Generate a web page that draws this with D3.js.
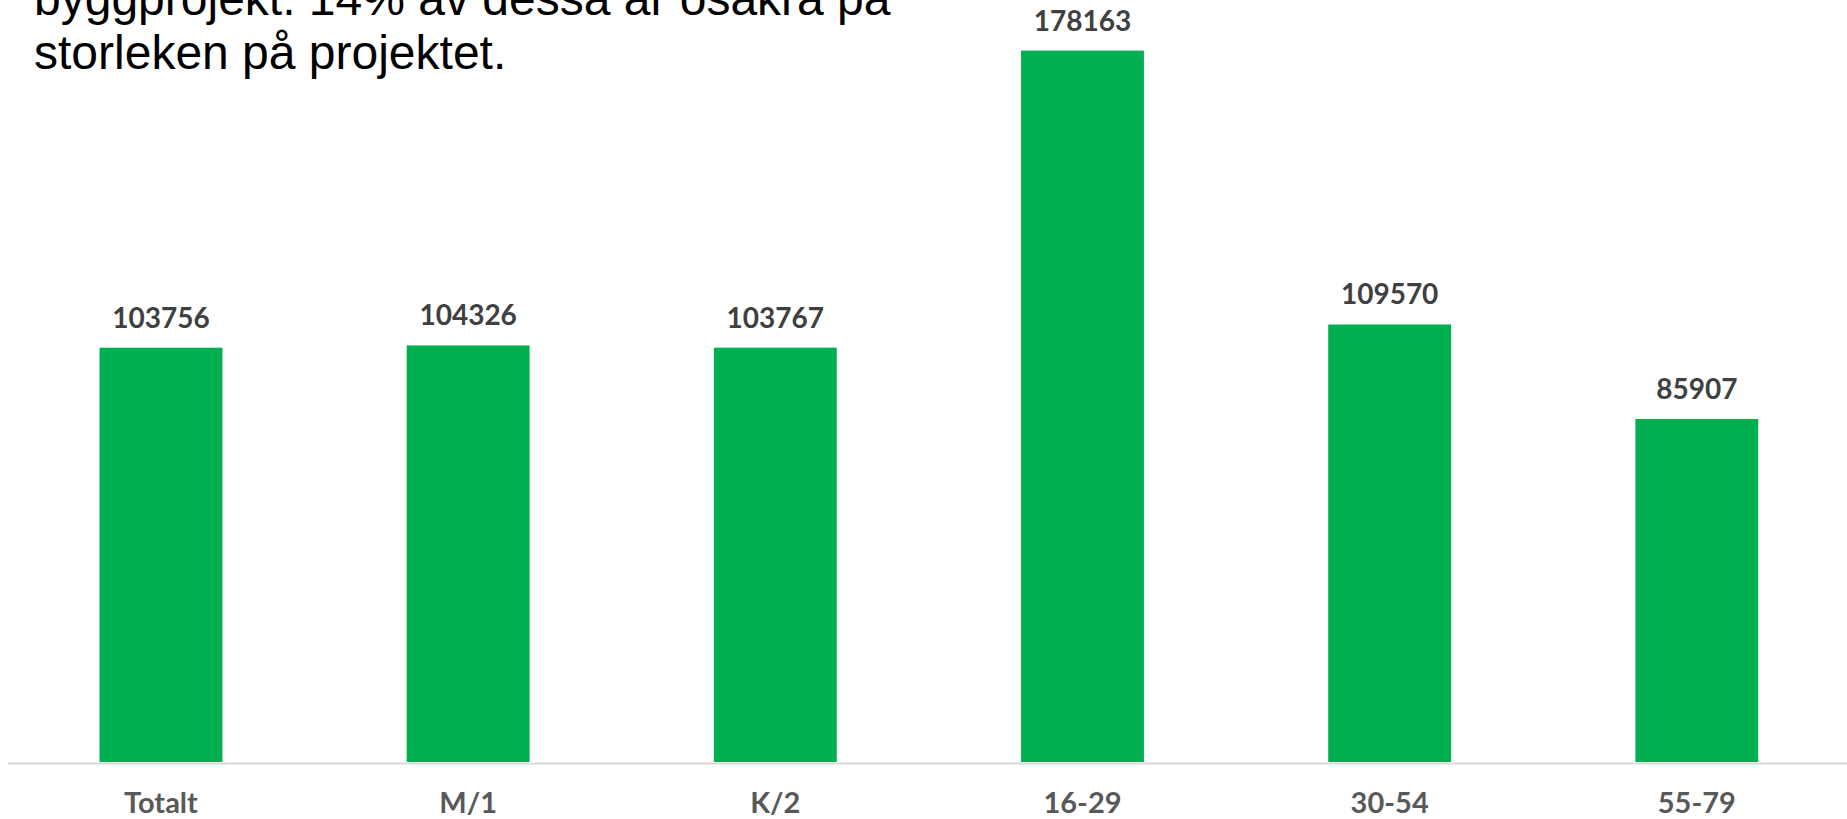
<!DOCTYPE html>
<html>
<head>
<meta charset="utf-8">
<script src="https://cdn.jsdelivr.net/npm/d3@7"></script>
<style>
  html, body { margin: 0; padding: 0; background: #fff; }
  svg { display: block; }
  .title { font-family: "Liberation Sans", Arial, sans-serif; font-size: 48px; fill: #000; }
  .value-label { font-family: Lato, "Open Sans", sans-serif; font-weight: 700; font-size: 28px; fill: #404040; }
  .x-axis text { font-family: Lato, "Open Sans", sans-serif; font-weight: 700; font-size: 29px; fill: #595959; }
</style>
</head>
<body>
<div class="container"></div>
<script>
const WIDTH = 1847;
const HEIGHT = 819;

// Data
const categories = ["Totalt", "M/1", "K/2", "16-29", "30-54", "55-79"];
const values = [103756, 104326, 103767, 178163, 109570, 85907];
const titleLines = [
  "byggprojekt. 14% av dessa är osäkra på",
  "storleken på projektet."
];

const BASELINE = 762;

const svg = d3.select(".container")
  .append("svg")
  .attr("width", WIDTH)
  .attr("height", HEIGHT);

// Scales
const x = d3.scaleBand()
  .domain(categories)
  .range([7.4, 1850.4])
  .paddingInner(0.6)
  .paddingOuter(0.3);

const y = d3.scaleLinear()
  .domain([0, 200000])
  .range([BASELINE, BASELINE - 0.003993 * 200000]);

// Bars
svg.append("g")
  .selectAll("rect")
  .data(values)
  .join("rect")
  .attr("x", (d, i) => x(categories[i]))
  .attr("y", d => y(d))
  .attr("width", x.bandwidth())
  .attr("height", d => y(0) - y(d))
  .attr("fill", "#00B050");

// Value labels
svg.append("g")
  .selectAll("text")
  .data(values)
  .join("text")
  .attr("class", "value-label")
  .attr("x", (d, i) => x(categories[i]) + x.bandwidth() / 2)
  .attr("y", d => y(d) - 20)
  .attr("text-anchor", "middle")
  .text(d => d);

// X axis
const xAxis = svg.append("g")
  .attr("class", "x-axis")
  .attr("transform", `translate(0,${BASELINE + 1})`)
  .call(d3.axisBottom(x).tickSize(0).tickSizeOuter(0));

xAxis.select(".domain")
  .attr("stroke", "#D9D9D9")
  .attr("stroke-width", 2);

xAxis.selectAll("text")
  .attr("dy", 0)
  .attr("y", 50);

// Title text in top-left corner (partly cut off)
svg.append("g")
  .selectAll("text")
  .data(titleLines)
  .join("text")
  .attr("class", "title")
  .attr("x", 34)
  .attr("y", (d, i) => 15 + i * 54)
  .text(d => d);
</script>
</body>
</html>
